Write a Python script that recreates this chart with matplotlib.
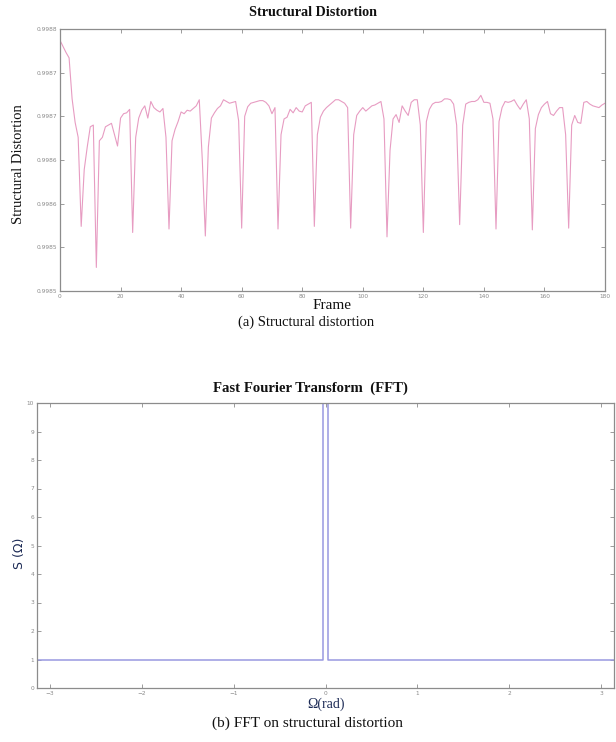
import matplotlib
matplotlib.use("Agg")
import matplotlib.pyplot as plt
import numpy as np

# ---------------- data ----------------
frames = list(range(0, 181))
distortion = [
    0.998787, 0.998780, 0.998773, 0.998767, 0.998720, 0.998693, 0.998676, 0.998574, 0.998639, 0.998665,
    0.998688, 0.998690, 0.998527, 0.998672, 0.998676, 0.998688, 0.998690, 0.998692, 0.998679, 0.998666,
    0.998698, 0.998703, 0.998704, 0.998708, 0.998567, 0.998676, 0.998698, 0.998707, 0.998712, 0.998698,
    0.998717, 0.998710, 0.998707, 0.998705, 0.998709, 0.998676, 0.998571, 0.998672, 0.998685, 0.998694,
    0.998705, 0.998703, 0.998707, 0.998706, 0.998709, 0.998712, 0.998719, 0.998650, 0.998563, 0.998665,
    0.998698, 0.998704, 0.998709, 0.998712, 0.998719, 0.998717, 0.998715, 0.998716, 0.998717, 0.998695,
    0.998572, 0.998700, 0.998711, 0.998715, 0.998716, 0.998717, 0.998718, 0.998718, 0.998716, 0.998712,
    0.998703, 0.998710, 0.998571, 0.998679, 0.998697, 0.998699, 0.998708, 0.998704, 0.998710, 0.998706,
    0.998705, 0.998712, 0.998714, 0.998716, 0.998574, 0.998679, 0.998699, 0.998706, 0.998710, 0.998713,
    0.998716, 0.998719, 0.998719, 0.998717, 0.998715, 0.998710, 0.998572, 0.998679, 0.998701, 0.998706,
    0.998710, 0.998706, 0.998709, 0.998712, 0.998713, 0.998715, 0.998717, 0.998697, 0.998562, 0.998661,
    0.998697, 0.998702, 0.998693, 0.998712, 0.998706, 0.998701, 0.998716, 0.998719, 0.998719, 0.998690,
    0.998567, 0.998694, 0.998708, 0.998714, 0.998716, 0.998716, 0.998717, 0.998720, 0.998720, 0.998719,
    0.998714, 0.998690, 0.998576, 0.998690, 0.998714, 0.998716, 0.998717, 0.998717, 0.998719, 0.998724,
    0.998716, 0.998716, 0.998715, 0.998697, 0.998571, 0.998694, 0.998710, 0.998717, 0.998716, 0.998717,
    0.998719, 0.998713, 0.998708, 0.998714, 0.998719, 0.998697, 0.998570, 0.998686, 0.998702, 0.998710,
    0.998714, 0.998717, 0.998703, 0.998701, 0.998706, 0.998710, 0.998710, 0.998679, 0.998572, 0.998690,
    0.998701, 0.998693, 0.998692, 0.998716, 0.998717, 0.998714, 0.998712, 0.998711, 0.998710, 0.998713,
    0.998715,
]
top_xticks = [0, 20, 40, 60, 80, 100, 120, 140, 160, 180]
top_yticks = [0.99850, 0.99855, 0.99860, 0.99865, 0.99870, 0.99875, 0.99880]
top_yticklabels = ["0.9985", "0.9985", "0.9986", "0.9986", "0.9987", "0.9987", "0.9988"]

omega = [-np.pi, -0.028, -0.028, 0.032, 0.032, np.pi]
spectrum = [1, 1, 12, 12, 1, 1]
fft_xticks = [-3, -2, -1, 0, 1, 2, 3]
fft_yticks = [0, 1, 2, 3, 4, 5, 6, 7, 8, 9, 10]

# ---------------- figure ----------------
W, H = 616, 742
fig = plt.figure(figsize=(W / 100, H / 100), dpi=100)
fig.patch.set_facecolor("white")

serif = ["Liberation Serif", "DejaVu Serif"]
spine_col = "#8c8c8c"
tick_col = "#8c8c8c"


def ax_rect(left, top, right, bottom):
    return [left / W, 1 - bottom / H, (right - left) / W, (bottom - top) / H]


def style(ax):
    for s in ax.spines.values():
        s.set_color(spine_col)
        s.set_linewidth(0.9)
    ax.tick_params(direction="in", length=3, width=0.6, color=tick_col,
                   labelsize=4.2, labelcolor="#8a8a8a", pad=2,
                   top=True, right=True)


# ---- top chart ----
ax1 = fig.add_axes(ax_rect(60, 29, 605, 291))
ax1.plot(frames, distortion, color="#e79cc2", lw=0.8)
ax1.set_xlim(0, 180)
ax1.set_ylim(0.99850, 0.99880)
ax1.set_xticks(top_xticks)
ax1.set_yticks(top_yticks)
ax1.set_yticklabels(top_yticklabels)
style(ax1)
ax1.set_xlabel("Frame", fontfamily=serif, fontsize=11, labelpad=0, color="#111111")
fig.text(19 / W, 1 - 164 / H, "Structural Distortion", rotation=90, ha="center", va="center",
         fontfamily=serif, fontsize=10.5, color="#111111")
fig.text(313 / W, 1 - 13 / H, "Structural Distortion", ha="center", va="center",
         fontfamily=serif, fontsize=10.2, fontweight="bold", color="#111111")
fig.text(306 / W, 1 - 322 / H, "(a) Structural distortion", ha="center", va="center",
         fontfamily=serif, fontsize=10.5, color="#111111")

# ---- bottom chart ----
ax2 = fig.add_axes(ax_rect(37, 403, 614, 688))
ax2.plot(omega, spectrum, color="#9898e0", lw=1.1)
ax2.set_xlim(-np.pi, np.pi)
ax2.set_ylim(0, 10)
ax2.set_xticks(fft_xticks)
ax2.set_yticks(fft_yticks)
style(ax2)
ax2.set_xlabel("\u03a9(rad)", fontfamily=serif, fontsize=10, labelpad=1, color="#1c2a55")
fig.text(19 / W, 1 - 553 / H, "S (\u03a9)", rotation=90, ha="center", va="center",
         fontfamily=["DejaVu Sans"], fontsize=9, color="#1c2a55")
fig.text(310 / W, 1 - 388 / H, "Fast Fourier Transform  (FFT)", ha="center", va="center",
         fontfamily=serif, fontsize=10.6, fontweight="bold", color="#111111")
fig.text(308 / W, 1 - 723 / H, "(b) FFT on structural distortion", ha="center", va="center",
         fontfamily=serif, fontsize=11, color="#111111")

fig.savefig("out.png", dpi=100, facecolor="white")
